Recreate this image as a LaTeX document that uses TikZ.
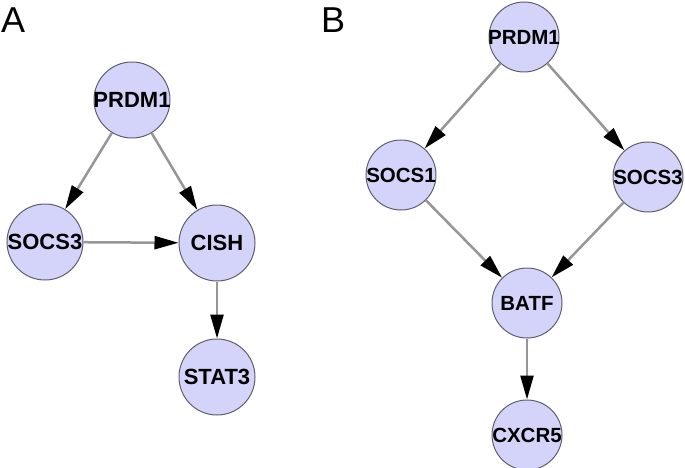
\documentclass[tikz,border=0pt]{standalone}
\usepackage{fontspec}
\setmainfont{Liberation Sans}
\usepackage{tikz}
\usetikzlibrary{arrows.meta}

\definecolor{genefill}{RGB}{212,212,250}
\definecolor{geneline}{RGB}{95,95,110}
\definecolor{edgegray}{RGB}{150,150,150}

\tikzset{
  gene/.style = {circle, draw = geneline, fill = genefill, line width = 1pt,
                 inner sep = -20pt, minimum size = 76pt,
                 font = \bfseries\fontsize{22}{22}\selectfont},
  geneB/.style = {gene, minimum size = 70pt,
                  font = \bfseries\fontsize{20.5}{20.5}\selectfont},
  link/.style = {draw = edgegray, line width = 2.5pt,
                 -{Triangle[length = 24pt, width = 13pt, color = black]}},
  panel/.style = {anchor = base west, inner sep = 0pt,
                  font = \fontsize{36}{36}\selectfont}
}

\begin{document}
\begin{tikzpicture}[x = 1pt, y = -1pt]
\useasboundingbox (0,0) rectangle (685,468);

% panel A
\node[panel] (labA) at (1,33) {A};
\node[gene] (aprdm) at (132,100) {PRDM1};
\node[gene] (asocs) at (45,242) {SOCS3};
\node[gene] (acish) at (217,243) {CISH};
\node[gene] (astat) at (217,377) {STAT3};

\draw[link] (aprdm) -- (asocs);
\draw[link] (aprdm) -- (acish);
\draw[link] (asocs) -- (acish);
\draw[link] (acish) -- (astat);

% panel B
\node[panel] (labB) at (321,33) {B};
\node[geneB] (bprdm) at (524,37) {PRDM1};
\node[geneB] (bsocsi) at (401,175) {SOCS1};
\node[geneB] (bsocsiii) at (648,177) {SOCS3};
\node[geneB] (bbatf) at (527,303) {BATF};
\node[geneB] (bcxcr) at (527,435) {CXCR5};

\draw[link] (bprdm) -- (bsocsi);
\draw[link] (bprdm) -- (bsocsiii);
\draw[link] (bsocsi) -- (bbatf);
\draw[link] (bsocsiii) -- (bbatf);
\draw[link] (bbatf) -- (bcxcr);
\end{tikzpicture}
\end{document}
